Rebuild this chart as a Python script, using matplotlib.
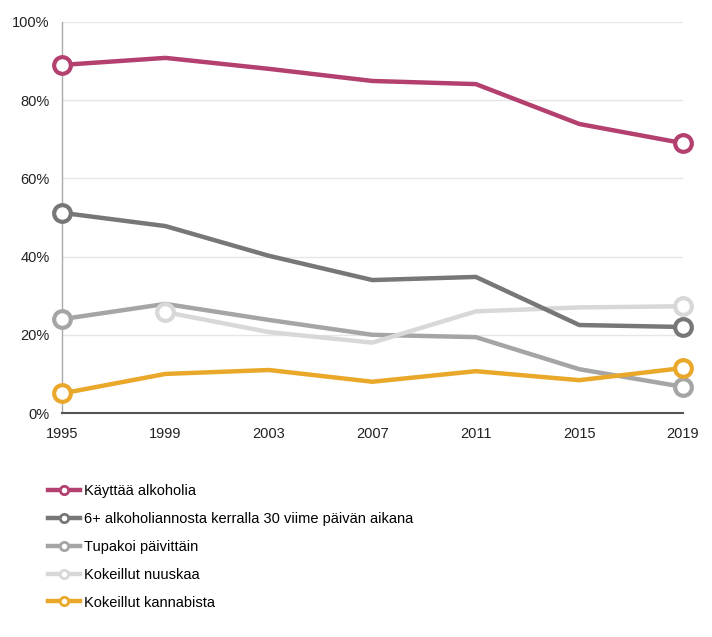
import matplotlib
matplotlib.use("Agg")
import matplotlib.pyplot as plt
from matplotlib.lines import Line2D
import numpy as np

plt.rcParams['font.family'] = ['Liberation Sans', 'DejaVu Sans']

years = [1995, 1999, 2003, 2007, 2011, 2015, 2019]
labels = ["Käyttää alkoholia",
          "6+ alkoholiannosta kerralla 30 viime päivän aikana",
          "Tupakoi päivittäin",
          "Kokeillut nuuskaa",
          "Kokeillut kannabista"]
alkoholi = [89.0, 90.8, 88.0, 84.9, 84.1, 73.9, 69.0]
humala = [51.2, 47.8, 40.2, 34.0, 34.8, 22.5, 22.0]
tupakka = [24.0, 27.9, 23.8, 20.0, 19.4, 11.2, 6.7]
nuuska_years = [1999, 2003, 2007, 2011, 2015, 2019]
nuuska = [25.8, 20.7, 18.0, 26.0, 27.0, 27.3]
kannabis = [5.0, 10.0, 11.0, 8.0, 10.7, 8.4, 11.5]

colors = ["#b4406f", "#777777", "#a5a5a5", "#d8d8d8", "#e9a82a"]

fig = plt.figure(figsize=(7.12, 6.37), dpi=100)
ax = fig.add_axes([0.087, 0.3516, 0.872, 0.614])

series = [(years, alkoholi), (years, humala), (years, tupakka),
          (nuuska_years, nuuska), (years, kannabis)]
for i in [2, 3, 1, 4, 0]:
    xs, ys = series[i]
    ax.plot(xs, ys, color=colors[i], lw=3.2, solid_joinstyle='round',
            solid_capstyle='round', marker='o', markevery=[0, len(xs) - 1],
            markersize=12, markerfacecolor='white', markeredgecolor=colors[i],
            markeredgewidth=3, zorder=3, clip_on=False)

ax.set_xlim(1995, 2019)
ax.set_ylim(0, 100)
ax.set_xticks(years)
ax.set_yticks([0, 20, 40, 60, 80, 100])
ax.set_yticklabels([f"{v}%" for v in [0, 20, 40, 60, 80, 100]])
ax.yaxis.grid(True, color="#e6e6e6", lw=1)
ax.set_axisbelow(True)
for s in ['top', 'right']:
    ax.spines[s].set_visible(False)
ax.spines['left'].set_color('#aaaaaa')
ax.spines['left'].set_linewidth(1)
ax.spines['bottom'].set_color('#555555')
ax.spines['bottom'].set_linewidth(1.5)
ax.tick_params(axis='both', length=0, labelsize=10.5, colors='#222222')
ax.tick_params(axis='x', pad=10)
ax.tick_params(axis='y', pad=9)

handles = [Line2D([0], [0], color=c, lw=3.2, marker='o', markersize=6,
                  markerfacecolor='white', markeredgecolor=c, markeredgewidth=2)
           for c in colors]
fig.legend(handles, labels, loc='upper left', bbox_to_anchor=(0.068, 0.240),
           frameon=False, fontsize=10.5, handlelength=2.2, handletextpad=0.25,
           labelspacing=0.95, borderaxespad=0, borderpad=0)

fig.savefig("out.png", dpi=100, facecolor='white')
